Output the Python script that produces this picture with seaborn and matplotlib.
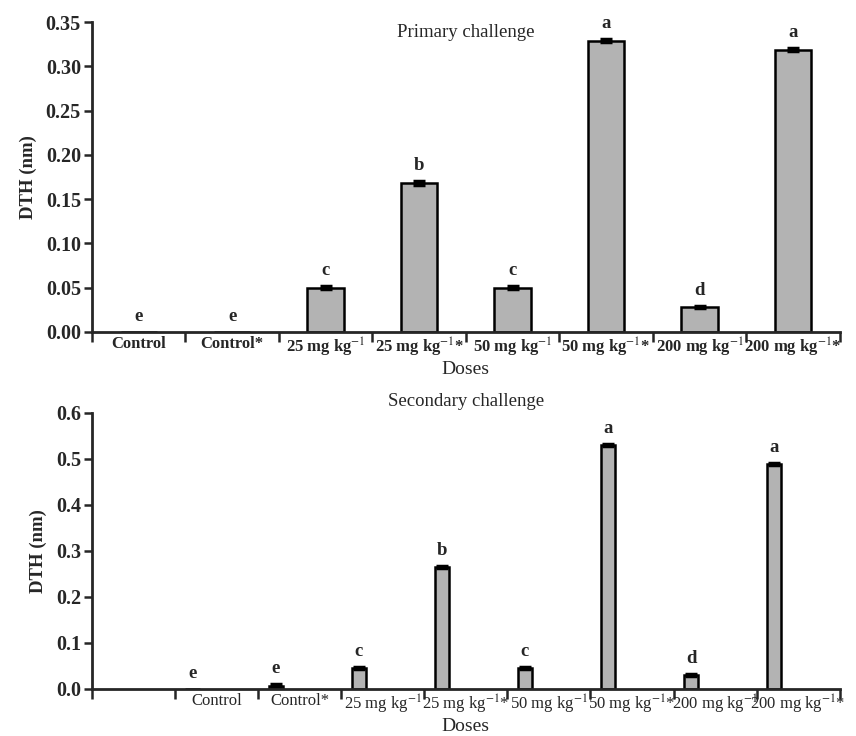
import numpy as np
import pandas as pd
import matplotlib
matplotlib.use("Agg")
import matplotlib.pyplot as plt
import seaborn as sns

# dose groups, shared by both panels
doses = ["Control", "Control*", "25 mg kg$^{-1}$", "25 mg kg$^{-1}$*",
         "50 mg kg$^{-1}$", "50 mg kg$^{-1}$*", "200 mg kg$^{-1}$", "200 mg kg$^{-1}$*"]

# primary challenge
primary_dth = [0.0, 0.0, 0.050, 0.168, 0.050, 0.329, 0.028, 0.319]
primary_err = [0.0, 0.0, 0.002, 0.002, 0.0015, 0.0015, 0.0015, 0.0015]
primary_letters = ["e", "e", "c", "b", "c", "a", "d", "a"]

# secondary challenge
secondary_dth = [0.0, 0.007, 0.046, 0.265, 0.046, 0.530, 0.030, 0.489]
secondary_err = [0.0, 0.003, 0.002, 0.002, 0.002, 0.002, 0.002, 0.002]
secondary_letters = ["e", "e", "c", "b", "c", "a", "d", "a"]

primary_yticks = [0.00, 0.05, 0.10, 0.15, 0.20, 0.25, 0.30, 0.35]
secondary_yticks = [0.0, 0.1, 0.2, 0.3, 0.4, 0.5, 0.6]

BAR_GRAY = "#b3b3b3"

sns.set_style("ticks")
plt.rcParams["font.family"] = ["Liberation Serif", "DejaVu Serif"]
plt.rcParams["mathtext.fontset"] = "stix"


def draw_panel(ax, values, errs, letters, bar_width, tick_fmt, yticks, ymax,
               xlim, label_shift, tick_weight, tick_size):
    df = pd.DataFrame({"dose": doses, "dth": values})
    sns.barplot(data=df, x="dose", y="dth", order=doses, color=BAR_GRAY,
                edgecolor="black", linewidth=1.8, width=bar_width,
                errorbar=None, saturation=1, ax=ax)

    pos = np.arange(len(doses))
    vals = np.array(values)
    err = np.array(errs)
    has_err = err > 0
    ax.errorbar(pos[has_err], vals[has_err], yerr=err[has_err], fmt="none",
                ecolor="black", elinewidth=2.5, capsize=4, capthick=2.5)

    for x, v, e, lab in zip(pos, vals, err, letters):
        ax.annotate(lab, (x, v + e), xytext=(0, 5), textcoords="offset points",
                    ha="center", va="bottom", fontsize=13.5, fontweight="bold")

    ax.set_xlim(*xlim)
    ax.set_ylim(0, ymax)
    ax.set_yticks(yticks)
    ax.set_yticklabels([tick_fmt.format(t) for t in yticks],
                       fontsize=14.5, fontweight="bold")

    # boundary ticks (major), category labels on minor ticks
    bounds = np.arange(xlim[0], xlim[1] + 0.01, 1.0)
    ax.set_xticks(bounds)
    ax.set_xticklabels([])
    ax.set_xticks(pos + label_shift, minor=True)
    ax.set_xticklabels(doses, minor=True, fontsize=tick_size, fontweight=tick_weight)
    ax.tick_params(axis="x", which="major", direction="out", length=7, width=1.8)
    ax.tick_params(axis="x", which="minor", length=0, pad=3)
    ax.tick_params(axis="y", direction="out", length=6, width=1.8, pad=2)

    sns.despine(ax=ax)
    for side in ["left", "bottom"]:
        ax.spines[side].set_linewidth(2)
    ax.set_ylabel("DTH (nm)", fontsize=13.5, fontweight="bold", labelpad=6)
    ax.set_xlabel("Doses", fontsize=14, labelpad=1)


fig = plt.figure(figsize=(8.56, 7.36), dpi=100)
ax_top = fig.add_axes([0.1075, 0.549, 0.8735, 0.421])
ax_bot = fig.add_axes([0.1075, 0.064, 0.8735, 0.375])

draw_panel(ax_top, primary_dth, primary_err, primary_letters, 0.39, "{:.2f}",
           primary_yticks, 0.35, (-0.5, 7.5), 0.0, "bold", 12)
ax_top.text(0.5, 0.995, "Primary challenge", transform=ax_top.transAxes,
            ha="center", va="top", fontsize=13.5)

draw_panel(ax_bot, secondary_dth, secondary_err, secondary_letters, 0.17, "{:.1f}",
           secondary_yticks, 0.6, (-1.21, 7.79), 0.29, "normal", 12)
ax_bot.set_title("Secondary challenge", fontsize=13.5, pad=5)

fig.savefig("out.png", dpi=100)
